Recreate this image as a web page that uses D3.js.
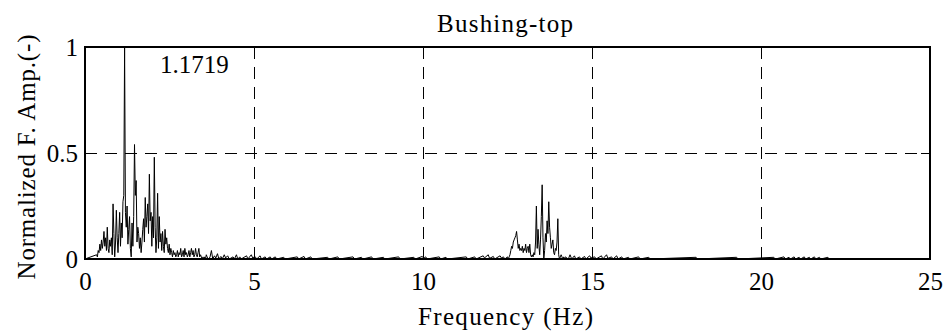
<!DOCTYPE html>
<html>
<head>
<meta charset="utf-8">
<script src="https://cdn.jsdelivr.net/npm/d3@7"></script>
<style>
  body { margin: 0; background: #fff; }
  svg { display: block; }
  text { font-family: "Liberation Serif", "DejaVu Serif", serif; fill: #000; }
</style>
</head>
<body>
<div id="container"></div>
<script>
/* CONSTANTS AND GLOBALS */
const width = 948,
  height = 333,
  margin = { top: 47, bottom: 74, left: 85, right: 18 };

/* DATA */
const titleText = "Bushing-top";
const xLabelText = "Frequency (Hz)";
const yLabelText = "Normalized F. Amp.(-)";
const peakLabel = "1.1719";
const xTicks = [0, 5, 10, 15, 20, 25];
const yTicks = [0, 0.5, 1];
const yTickLabels = ["0", "0.5", "1"];

// FFT bin width (Hz)
const df = 0.0244140625;

// low band, bins 14..150
const lowStartBin = 14;
const lowAmp = [
  0.02, 0.01, 0.04, 0.03, 0.07, 0.04, 0.09, 0.05, 0.08, 0.13,
  0.06, 0.10, 0.04, 0.15, 0.05, 0.03, 0.09, 0.06, 0.10, 0.02,
  0.26, 0.12, 0.01, 0.08, 0.23, 0.10, 0.03, 0.12, 0.22, 0.06,
  0.17, 0.10, 0.27, 0.30, 1.00, 0.22, 0.15, 0.25, 0.07, 0.14,
  0.20, 0.05, 0.01, 0.17, 0.06, 0.20, 0.54, 0.30, 0.37, 0.08,
  0.15, 0.12, 0.05, 0.10, 0.03, 0.08, 0.14, 0.19, 0.08, 0.29,
  0.15, 0.20, 0.26, 0.12, 0.40, 0.18, 0.22, 0.06, 0.20, 0.10,
  0.48, 0.15, 0.03, 0.10, 0.31, 0.05, 0.20, 0.08, 0.12, 0.04,
  0.13, 0.06, 0.03, 0.14, 0.07, 0.10, 0.05, 0.03, 0.07, 0.02,
  0.05, 0.03, 0.01, 0.04, 0.02, 0.03, 0.01, 0.02, 0.04, 0.01,
  0.03, 0.02, 0.05, 0.01, 0.02, 0.04, 0.01, 0.05, 0.02, 0.03,
  0.01, 0.02, 0.04, 0.01, 0.03, 0.05, 0.02, 0.04, 0.01, 0.02,
  0.05, 0.02, 0.01, 0.03, 0.05, 0.01, 0.02, 0.01, 0.00, 0.01,
  0.00, 0.01, 0.00, 0.02, 0.01, 0.00, 0.00
];

// mid band, bins 512..582
const midStartBin = 512;
const midAmp = [
  0.01, 0.00, 0.01, 0.02, 0.04, 0.06, 0.05, 0.08, 0.09, 0.10,
  0.11, 0.13, 0.09, 0.05, 0.07, 0.04, 0.05, 0.04, 0.06, 0.03,
  0.05, 0.04, 0.07, 0.03, 0.05, 0.06, 0.03, 0.07, 0.02, 0.01,
  0.02, 0.01, 0.03, 0.02, 0.08, 0.25, 0.05, 0.14, 0.07, 0.02,
  0.09, 0.20, 0.35, 0.10, 0.00, 0.04, 0.12, 0.08, 0.18, 0.12,
  0.27, 0.15, 0.10, 0.05, 0.07, 0.09, 0.03, 0.02, 0.05, 0.04,
  0.08, 0.19, 0.02, 0.00, 0.01, 0.02, 0.01, 0.00, 0.01, 0.00,
  0.01
];

// small noise-floor blips [Hz, amp]
const noiseBefore = [
  [3.70, 0.01], [3.74, 0.04], [3.78, 0.0], [3.83, 0.015], [3.87, 0.005], [3.92, 0.025],
  [3.96, 0.0], [4.02, 0.012], [4.06, 0.0], [4.12, 0.02], [4.16, 0.005], [4.22, 0.015],
  [4.27, 0.0], [4.38, 0.01], [4.42, 0.0], [4.48, 0.02], [4.52, 0.0], [4.58, 0.01],
  [4.62, 0.0], [4.78, 0.015], [4.82, 0.0], [4.92, 0.02], [4.96, 0.005], [5.03, 0.012],
  [5.08, 0.0], [5.18, 0.015], [5.22, 0.0], [5.33, 0.01], [5.37, 0.0], [5.48, 0.01],
  [5.52, 0.0], [5.63, 0.01], [5.67, 0.0], [5.88, 0.008], [5.92, 0.0], [6.28, 0.01],
  [6.32, 0.0], [6.48, 0.012], [6.52, 0.0], [6.68, 0.01], [6.72, 0.0], [7.18, 0.008],
  [7.22, 0.0], [7.48, 0.01], [7.52, 0.0], [7.93, 0.01], [7.97, 0.0], [8.18, 0.008],
  [8.22, 0.0], [8.48, 0.01], [8.52, 0.0], [8.83, 0.008], [8.87, 0.0], [9.28, 0.01],
  [9.32, 0.0], [9.73, 0.008], [9.77, 0.0], [9.98, 0.012], [10.02, 0.003], [10.08, 0.01],
  [10.12, 0.0], [10.48, 0.01], [10.52, 0.0], [10.68, 0.008], [10.72, 0.0], [11.28, 0.01],
  [11.32, 0.0], [11.53, 0.01], [11.57, 0.0], [11.78, 0.015], [11.82, 0.005], [11.93, 0.02],
  [11.97, 0.003], [12.08, 0.012], [12.12, 0.0], [12.28, 0.015], [12.32, 0.005], [12.38, 0.01],
  [12.42, 0.0]
];
const noiseAfter = [
  [14.30, 0.0], [14.35, 0.02], [14.40, 0.0], [14.48, 0.015], [14.52, 0.0], [14.63, 0.01],
  [14.67, 0.0], [14.78, 0.012], [14.82, 0.0], [14.93, 0.015], [14.97, 0.005], [15.08, 0.01],
  [15.12, 0.0], [15.28, 0.015], [15.32, 0.0], [15.43, 0.02], [15.47, 0.003], [15.58, 0.01],
  [15.62, 0.0], [15.73, 0.015], [15.77, 0.0], [15.88, 0.01], [15.92, 0.0], [16.08, 0.008],
  [16.12, 0.0], [16.38, 0.01], [16.42, 0.0], [16.68, 0.008], [16.72, 0.0], [18.08, 0.008],
  [18.12, 0.0], [19.28, 0.008], [19.32, 0.0], [20.38, 0.008], [20.42, 0.0], [20.68, 0.01],
  [20.72, 0.0], [20.83, 0.008], [20.87, 0.0], [20.98, 0.01], [21.02, 0.0], [21.13, 0.008],
  [21.17, 0.0], [21.28, 0.01], [21.32, 0.0], [21.43, 0.008], [21.47, 0.0], [21.58, 0.01],
  [21.62, 0.0], [21.73, 0.008], [21.77, 0.0], [21.98, 0.008], [22.02, 0.0], [25, 0]
];

// put the spectrum together
const spectrum = [{ f: 0, a: 0 }];
lowAmp.forEach((a, i) => spectrum.push({ f: (lowStartBin + i) * df, a }));
noiseBefore.forEach(d => spectrum.push({ f: d[0], a: d[1] }));
midAmp.forEach((a, i) => spectrum.push({ f: (midStartBin + i) * df, a }));
noiseAfter.forEach(d => spectrum.push({ f: d[0], a: d[1] }));
spectrum.sort((p, q) => p.f - q.f);

// SCALES
const xScale = d3.scaleLinear()
  .domain([0, 25])
  .range([margin.left, width - margin.right]);

const yScale = d3.scaleLinear()
  .domain([0, 1])
  .range([height - margin.bottom, margin.top]);

// CREATE SVG ELEMENT
const svg = d3.select("#container")
  .append("svg")
  .attr("width", width)
  .attr("height", height);

// GRID
svg.append("g")
  .attr("shape-rendering", "crispEdges")
  .selectAll("line")
  .data(xTicks.filter(t => t > 0 && t < 25))
  .join("line")
  .attr("x1", d => xScale(d)).attr("x2", d => xScale(d))
  .attr("y1", yScale(1)).attr("y2", yScale(0))
  .attr("stroke", "#000")
  .attr("stroke-width", 1)
  .attr("stroke-dasharray", "12,8");

svg.append("g")
  .attr("shape-rendering", "crispEdges")
  .selectAll("line")
  .data(yTicks.filter(t => t > 0 && t < 1))
  .join("line")
  .attr("x1", xScale(0)).attr("x2", xScale(25))
  .attr("y1", d => yScale(d)).attr("y2", d => yScale(d))
  .attr("stroke", "#000")
  .attr("stroke-width", 1)
  .attr("stroke-dasharray", "12,8");

// LINE
const lineGen = d3.line()
  .x(d => xScale(d.f))
  .y(d => yScale(d.a));

svg.append("path")
  .datum(spectrum)
  .attr("fill", "none")
  .attr("stroke", "#000")
  .attr("stroke-width", 1)
  .attr("stroke-linejoin", "round")
  .attr("d", lineGen);

// BUILD AND CALL AXES
const tickLen = 9;

svg.append("g")
  .attr("transform", `translate(0,${yScale(0)})`)
  .call(d3.axisBottom(xScale).tickValues(xTicks).tickFormat(d3.format("d"))
    .tickSizeInner(-tickLen).tickSizeOuter(0).tickPadding(13));

svg.append("g")
  .attr("transform", `translate(${xScale(0)},0)`)
  .call(d3.axisLeft(yScale).tickValues(yTicks).tickFormat((d, i) => yTickLabels[i])
    .tickSizeInner(-tickLen).tickSizeOuter(0).tickPadding(7));

svg.append("g")
  .attr("transform", `translate(0,${yScale(1)})`)
  .call(d3.axisTop(xScale).tickValues(xTicks).tickFormat("")
    .tickSizeInner(-tickLen).tickSizeOuter(0));

svg.append("g")
  .attr("transform", `translate(${xScale(25)},0)`)
  .call(d3.axisRight(yScale).tickValues(yTicks).tickFormat("")
    .tickSizeInner(-tickLen).tickSizeOuter(0));

svg.selectAll(".domain").remove();
svg.selectAll(".tick line")
  .attr("stroke", "#000")
  .attr("stroke-width", 1)
  .attr("shape-rendering", "crispEdges");
svg.selectAll(".tick text")
  .style("font-family", '"Liberation Serif", serif')
  .style("font-size", "25px");

// box
svg.append("rect")
  .attr("x", xScale(0))
  .attr("y", yScale(1))
  .attr("width", xScale(25) - xScale(0))
  .attr("height", yScale(0) - yScale(1))
  .attr("fill", "none")
  .attr("stroke", "#000")
  .attr("stroke-width", 2)
  .attr("shape-rendering", "crispEdges");

// LABELS
svg.append("text")
  .attr("x", 505)
  .attr("y", 32)
  .attr("text-anchor", "middle")
  .attr("font-size", 25)
  .attr("textLength", 136)
  .attr("lengthAdjust", "spacing")
  .text(titleText);

svg.append("text")
  .attr("x", 505.5)
  .attr("y", 325)
  .attr("text-anchor", "middle")
  .attr("font-size", 25)
  .attr("textLength", 175)
  .attr("lengthAdjust", "spacing")
  .text(xLabelText);

svg.append("text")
  .attr("transform", "translate(35,157) rotate(-90)")
  .attr("text-anchor", "middle")
  .attr("font-size", 25)
  .attr("textLength", 245)
  .attr("lengthAdjust", "spacing")
  .text(yLabelText);

svg.append("text")
  .attr("x", 160)
  .attr("y", 73)
  .attr("font-size", 25)
  .text(peakLabel);
</script>
</body>
</html>
